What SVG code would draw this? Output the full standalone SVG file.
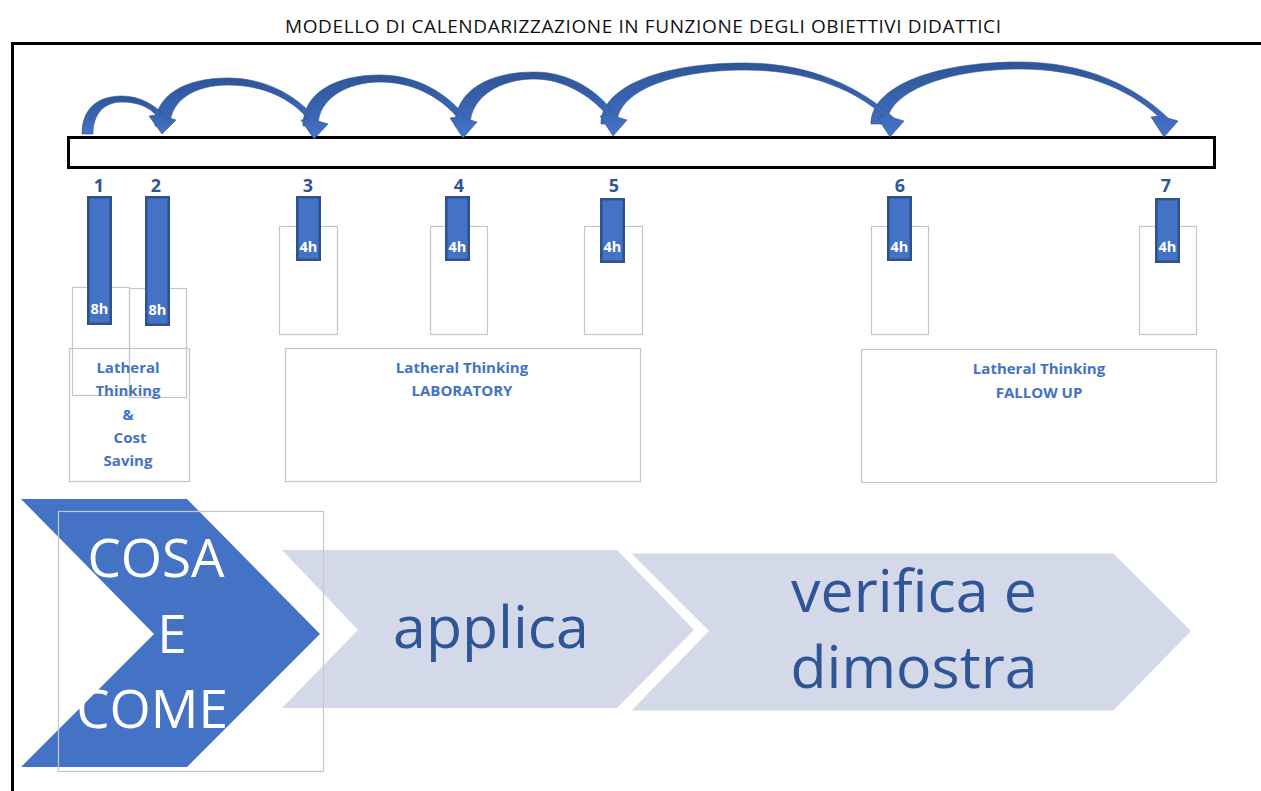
<svg xmlns="http://www.w3.org/2000/svg" width="1261" height="791" viewBox="0 0 1261 791">
<defs>
<linearGradient id="ag" x1="0" y1="0" x2="0" y2="1">
<stop offset="0" stop-color="#2E5597"/>
<stop offset="0.6" stop-color="#3A66B4"/>
<stop offset="1" stop-color="#4675C8"/>
</linearGradient>
<style>
.ttl{font-family:"Open Sans","Liberation Sans",sans-serif;font-size:19px;fill:#111}
.num{font-family:"Open Sans","Liberation Sans",sans-serif;font-size:18px;font-weight:bold;fill:#2F5597;text-anchor:middle}
.bar{fill:#4472C4;stroke:#2F528F;stroke-width:2.5}
.hr{font-family:"Open Sans","Liberation Sans",sans-serif;font-size:14.5px;font-weight:bold;fill:#fff;text-anchor:middle}
.gbox{fill:none;stroke:#C6C6C6;stroke-width:1.2}
.lbl{font-family:"Open Sans","Liberation Sans",sans-serif;font-size:15px;font-weight:bold;fill:#4472C4;text-anchor:middle}
.arr{fill:url(#ag);stroke:#2F528F;stroke-width:0.6}
.big{font-family:"Open Sans","Liberation Sans",sans-serif;font-size:53px;text-anchor:middle}
.big2{font-family:"Open Sans","Liberation Sans",sans-serif;font-size:59px;text-anchor:middle;fill:#2F5597}
.lite{fill:#D4D9EA}
</style>
</defs>
<rect width="1261" height="791" fill="#fff"/>
<text class="ttl" x="285" y="33" textLength="716">MODELLO DI CALENDARIZZAZIONE IN FUNZIONE DEGLI OBIETTIVI DIDATTICI</text>
<path d="M12.5,791 V43.5 H1261" fill="none" stroke="#000" stroke-width="3"/>

<g id="timeline">
<rect x="68.5" y="137.5" width="1146" height="30" fill="#fff" stroke="#000" stroke-width="3"/>
</g>

<g id="connectors">
<path class="arr" d="M871,124 C871,86 935,62 1020,62 C1086,62 1136,87 1168,118 L1178,121 L1164,137 L1151,117 L1158,116 C1128,88 1080,69 1020,69 C946,69 887,92 887,124 Z"/>
<path class="arr" d="M601,124 C601,87 660,63 745,63 C811,63 861,88 894,118 L904,121 L890,137 L877,117 L884,116 C853,88 805,70 745,70 C670,70 617,92 617,124 Z"/>
<path class="arr" d="M455,126 C455,91 488,72 534,72 C570,72 599,91 617,117 L627,120 L613,136 L600,116 L607,115 C590,95 563,79 534,79 C501,79 470,96 470,126 Z"/>
<path class="arr" d="M303,126 C303,93 335,75 380,75 C416,75 448,93 467,119 L477,122 L463,138 L450,118 L457,117 C440,97 413,82 380,82 C348,82 318,98 318,126 Z"/>
<path class="arr" d="M155,126 C155,95 185,78 228,78 C266,78 298,96 318,121 L328,124 L314,139 L301,120 L308,119 C291,98 262,85 228,85 C195,85 170,100 170,126 Z"/>
<path class="arr" d="M82,134 C82,110 96,96 122,96 C140,96 155,105 166,117 L176,120 L162,134 L149,116 L156,115 C149,107 137,102 122,102 C104,102 93,114 93,134 Z"/>
</g>

<g id="chevron-applica">
<polygon class="lite" points="282,550 617,550 694,630 617,708 282,708 358,630"/>
<text class="big2" x="491" y="648">applica</text>
</g>
<g id="chevron-verifica">
<polygon class="lite" points="628,552 1114,552 1193,631 1114,712 628,712 707,631" stroke="#fff" stroke-width="3"/>
<text class="big2" x="914" y="612">verifica e</text>
<text class="big2" x="914" y="688">dimostra</text>
</g>
<g id="chevron-cosa">
<polygon points="21,499 187,499 320,634 187,767 21,767 154,634" fill="#4472C4"/>
<text class="big" x="156" y="577" fill="#fff">COSA</text>
<text class="big" x="172" y="653" fill="#fff">E</text>
<text class="big" x="152" y="728" fill="#fff">COME</text>
<rect class="gbox" x="58.5" y="511.5" width="265" height="260"/>
</g>

<g id="box-1">
<rect class="gbox" x="72.5" y="287.5" width="57" height="108"/>
</g>
<g id="box-2">
<rect class="gbox" x="129.5" y="288.5" width="57" height="109"/>
</g>
<g id="group-cost-saving">
<rect class="gbox" x="69.5" y="348.5" width="120" height="133"/>
<text class="lbl" x="128" y="373">Latheral</text>
<text class="lbl" x="128" y="396">Thinking</text>
<text class="lbl" x="128" y="420">&amp;</text>
<text class="lbl" x="130" y="443">Cost</text>
<text class="lbl" x="128" y="466">Saving</text>
</g>
<g id="group-laboratory">
<rect class="gbox" x="285.5" y="348.5" width="355" height="133"/>
<text class="lbl" x="462" y="373">Latheral Thinking</text>
<text class="lbl" x="462" y="396">LABORATORY</text>
</g>
<g id="group-follow-up">
<rect class="gbox" x="861.5" y="349.5" width="355" height="133"/>
<text class="lbl" x="1039" y="374">Latheral Thinking</text>
<text class="lbl" x="1039" y="398">FALLOW UP</text>
</g>

<g id="box-3"><rect class="gbox" x="279.5" y="226.5" width="58" height="108"/></g>
<g id="box-4"><rect class="gbox" x="430.5" y="226.5" width="57" height="108"/></g>
<g id="box-5"><rect class="gbox" x="584.5" y="226.5" width="58" height="108"/></g>
<g id="box-6"><rect class="gbox" x="871.5" y="226.5" width="57" height="108"/></g>
<g id="box-7"><rect class="gbox" x="1139.5" y="226.5" width="57" height="108"/></g>

<g id="session-1">
<text class="num" x="99" y="192">1</text>
<rect class="bar" x="88.25" y="197.25" width="22.5" height="126.5"/>
<text class="hr" x="99.5" y="314">8h</text>
</g>
<g id="session-2">
<text class="num" x="156" y="192">2</text>
<rect class="bar" x="146.25" y="197.25" width="22.5" height="127.5"/>
<text class="hr" x="157.5" y="315">8h</text>
</g>
<g id="session-3">
<text class="num" x="308" y="192">3</text>
<rect class="bar" x="297.25" y="197.25" width="22.5" height="62.5"/>
<text class="hr" x="308.5" y="252">4h</text>
</g>
<g id="session-4">
<text class="num" x="459" y="192">4</text>
<rect class="bar" x="446.25" y="197.25" width="22.5" height="62.5"/>
<text class="hr" x="457.5" y="252">4h</text>
</g>
<g id="session-5">
<text class="num" x="614" y="192">5</text>
<rect class="bar" x="601.25" y="199.25" width="22.5" height="62.5"/>
<text class="hr" x="612.5" y="252">4h</text>
</g>
<g id="session-6">
<text class="num" x="900" y="192">6</text>
<rect class="bar" x="888.25" y="197.25" width="22.5" height="62.5"/>
<text class="hr" x="899.5" y="252">4h</text>
</g>
<g id="session-7">
<text class="num" x="1166" y="192">7</text>
<rect class="bar" x="1156.25" y="199.25" width="22.5" height="62.5"/>
<text class="hr" x="1167.5" y="252">4h</text>
</g>
</svg>
